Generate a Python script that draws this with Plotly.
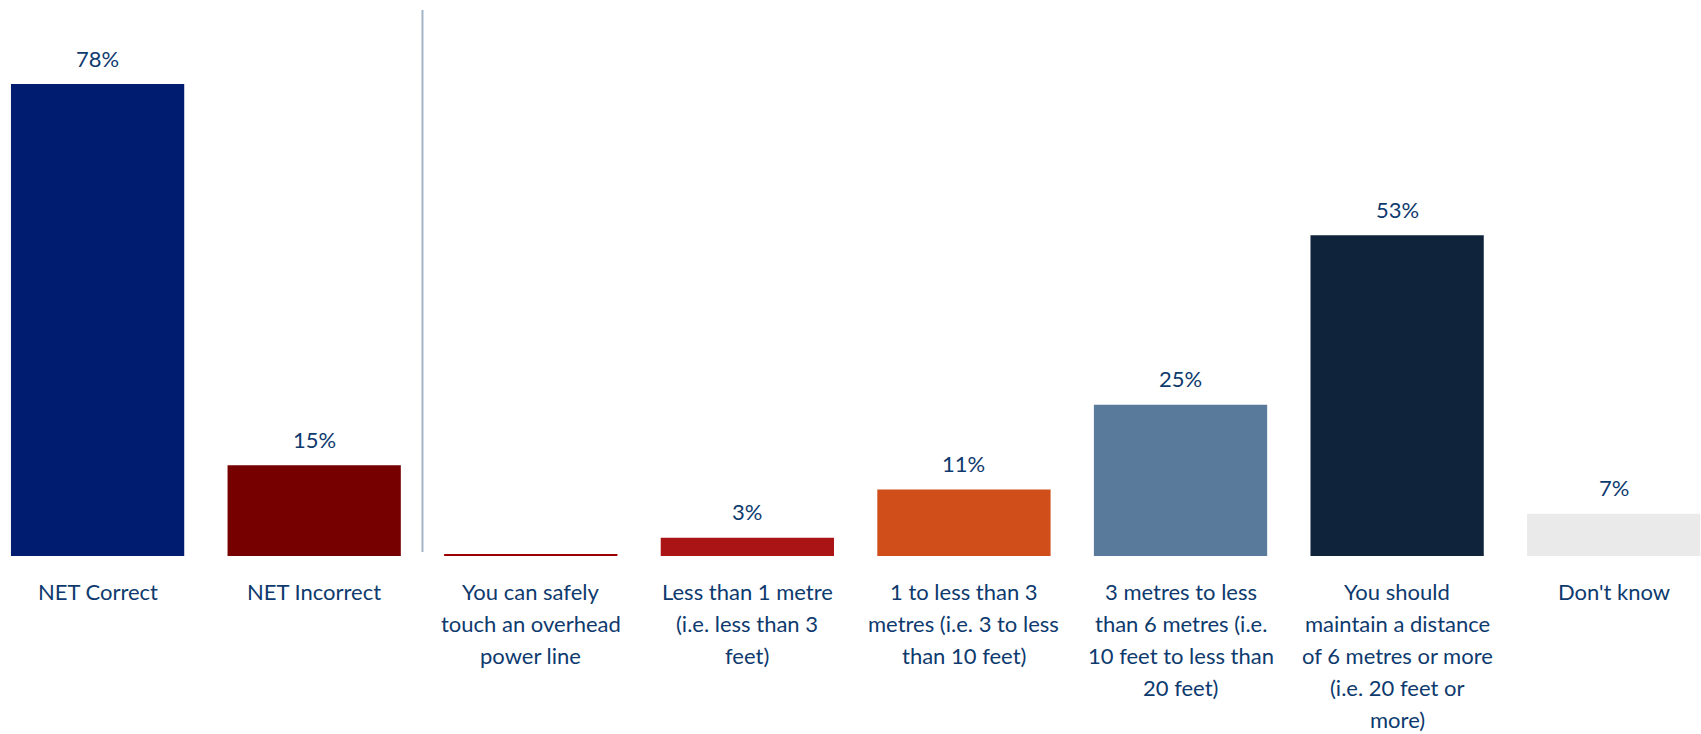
import plotly.graph_objects as go

categories = [
    "NET Correct",
    "NET Incorrect",
    "You can safely<br>touch an overhead<br>power line",
    "Less than 1 metre<br>(i.e. less than 3<br>feet)",
    "1 to less than 3<br>metres (i.e. 3 to less<br>than 10 feet)",
    "3 metres to less<br>than 6 metres (i.e.<br>10 feet to less than<br>20 feet)",
    "You should<br>maintain a distance<br>of 6 metres or more<br>(i.e. 20 feet or<br>more)",
    "Don't know",
]
values = [78, 15, 0.3, 3, 11, 25, 53, 7]
value_labels = ["78%", "15%", "", "3%", "11%", "25%", "53%", "7%"]
colors = ["#001c71", "#760000", "#9b0000", "#ab1414", "#d04e1a", "#5a7a9b", "#0f233b", "#eaeaea"]

TEXT = "#0e3a6e"
FONT = "Lato"
FS = 22

x_idx = list(range(len(categories)))

fig = go.Figure()
fig.add_trace(go.Bar(
    x=x_idx, y=values, marker=dict(color=colors, line=dict(width=0)),
    width=0.8, hoverinfo="skip",
))

for i, (v, t) in enumerate(zip(values, value_labels)):
    if t:
        fig.add_annotation(x=i, y=v, text=t, showarrow=False, yanchor="middle",
                           yshift=26, font=dict(family=FONT, size=FS, color=TEXT))

for i, cat in enumerate(categories):
    for k, line in enumerate(cat.split("<br>")):
        fig.add_annotation(x=i, xref="x", y=0, yref="paper", text=line, showarrow=False,
                           yanchor="middle", xanchor="center", yshift=-(35 + 32 * k),
                           font=dict(family=FONT, size=FS, color=TEXT))

fig.add_shape(type="line", xref="x", yref="paper", x0=1.5, x1=1.5, y0=0.007, y1=0.982,
              line=dict(color="#a3b4c9", width=2))

fig.update_layout(
    width=1701, height=734,
    margin=dict(l=0, r=0, t=0, b=178),
    plot_bgcolor="white", paper_bgcolor="white",
    showlegend=False,
    font=dict(family=FONT, size=FS, color=TEXT),
    xaxis=dict(
        range=[-0.4506, 7.403], showticklabels=False,
        showgrid=False, zeroline=False, showline=False, ticks="",
        fixedrange=True,
    ),
    yaxis=dict(range=[0, 556 / 6.05], visible=False, fixedrange=True),
)

fig.write_html("out.html")
